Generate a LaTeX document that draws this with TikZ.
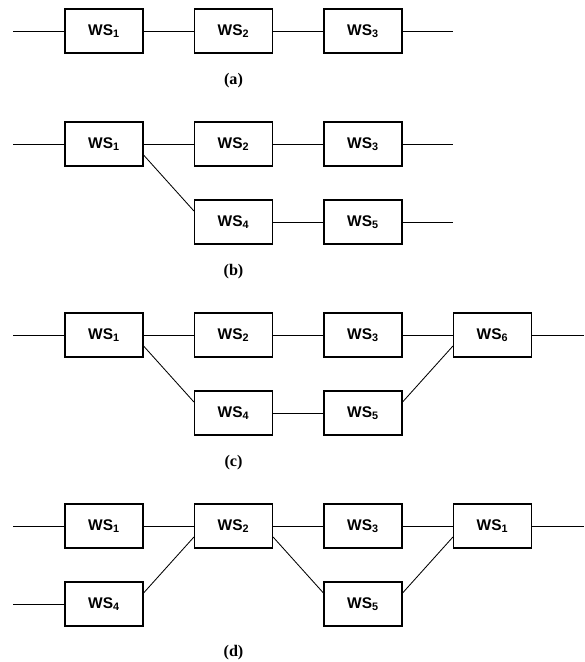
\documentclass[tikz,border=0pt]{standalone}
\usepackage{fontspec}
\setmainfont{Liberation Serif}
\setsansfont{Liberation Sans}

\begin{document}
\begin{tikzpicture}[x=0.025cm,y=-0.025cm]
        \tikzstyle{every node}=[font=\sffamily\bfseries\fontsize{11}{13}\selectfont]
        \tikzstyle{ws}=[draw,line width=0.8pt,minimum width=1.95cm,minimum height=1.1cm,inner sep=0pt]
        \tikzstyle{link}=[line width=0.6pt]
        \tikzstyle{caption}=[font=\rmfamily\bfseries\fontsize{11.5}{13}\selectfont]
        \useasboundingbox (0,0) rectangle (584,662);

        \node[ws] (a1) at (104,31) {WS\textsubscript{1}};
        \node[ws] (a2) at (233.5,31) {WS\textsubscript{2}};
        \node[ws] (a3) at (363,31) {WS\textsubscript{3}};
        \coordinate (ain) at (13,31);
        \coordinate (aout) at (453,31);
        \draw[link] (ain) -- (a1) -- (a2) -- (a3) -- (aout);
        \node[caption] (capa) at (233.5,81) {(a)};

        \node[ws] (b1) at (104,144) {WS\textsubscript{1}};
        \node[ws] (b2) at (233.5,144) {WS\textsubscript{2}};
        \node[ws] (b3) at (363,144) {WS\textsubscript{3}};
        \node[ws] (b4) at (233.5,222) {WS\textsubscript{4}};
        \node[ws] (b5) at (363,222) {WS\textsubscript{5}};
        \coordinate (bin) at (13,144);
        \coordinate (bout) at (453,144);
        \coordinate (bout2) at (453,222);
        \draw[link] (bin) -- (b1) -- (b2) -- (b3) -- (bout);
        \draw[link] ([yshift=-0.275cm]b1.east) -- ([yshift=0.275cm]b4.west);
        \draw[link] (b4) -- (b5) -- (bout2);
        \node[caption] (capb) at (233.5,272) {(b)};

        \node[ws] (c1) at (104,335) {WS\textsubscript{1}};
        \node[ws] (c2) at (233.5,335) {WS\textsubscript{2}};
        \node[ws] (c3) at (363,335) {WS\textsubscript{3}};
        \node[ws] (c6) at (492.5,335) {WS\textsubscript{6}};
        \node[ws] (c4) at (233.5,413) {WS\textsubscript{4}};
        \node[ws] (c5) at (363,413) {WS\textsubscript{5}};
        \coordinate (cin) at (13,335);
        \coordinate (cout) at (584,335);
        \draw[link] (cin) -- (c1) -- (c2) -- (c3) -- (c6) -- (cout);
        \draw[link] ([yshift=-0.275cm]c1.east) -- ([yshift=0.275cm]c4.west);
        \draw[link] (c4) -- (c5);
        \draw[link] ([yshift=0.275cm]c5.east) -- ([yshift=-0.275cm]c6.west);
        \node[caption] (capc) at (233.5,463) {(c)};

        \node[ws] (d1) at (104,526) {WS\textsubscript{1}};
        \node[ws] (d2) at (233.5,526) {WS\textsubscript{2}};
        \node[ws] (d3) at (363,526) {WS\textsubscript{3}};
        \node[ws] (d6) at (492.5,526) {WS\textsubscript{1}};
        \node[ws] (d4) at (104,604) {WS\textsubscript{4}};
        \node[ws] (d5) at (363,604) {WS\textsubscript{5}};
        \coordinate (din) at (13,526);
        \coordinate (din2) at (13,604);
        \coordinate (dout) at (584,526);
        \draw[link] (din) -- (d1) -- (d2) -- (d3) -- (d6) -- (dout);
        \draw[link] (din2) -- (d4);
        \draw[link] ([yshift=0.275cm]d4.east) -- ([yshift=-0.275cm]d2.west);
        \draw[link] ([yshift=-0.275cm]d2.east) -- ([yshift=0.275cm]d5.west);
        \draw[link] ([yshift=0.275cm]d5.east) -- ([yshift=-0.275cm]d6.west);
        \node[caption] (capd) at (233.5,653) {(d)};
\end{tikzpicture}
\end{document}
